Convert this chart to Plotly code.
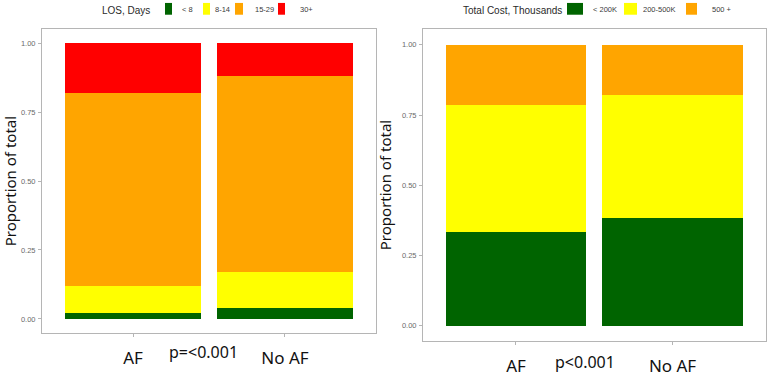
import plotly.graph_objects as go

# ---------------- data ----------------
groups = ["AF", "No AF"]

los_labels = ["< 8", "8-14", "15-29", "30+"]
los_lt8 = [0.021, 0.041]
los_8_14 = [0.100, 0.130]
los_15_29 = [0.697, 0.709]
los_30plus = [0.182, 0.120]

cost_labels = ["< 200K", "200-500K", "500 +"]
cost_lt200 = [0.333, 0.384]
cost_200_500 = [0.454, 0.438]
cost_500plus = [0.213, 0.178]

y_ticks = [0, 0.25, 0.5, 0.75, 1.0]
y_ticktext = ["0.00", "0.25", "0.50", "0.75", "1.00"]

los_title = "LOS, Days"
cost_title = "Total Cost, Thousands"
p_left = "p=<0.001"
p_right = "p<0.001"
y_title = "Proportion of total"

# ---------------- styles ----------------
los_colors = ["#006400", "#FFFF00", "#FFA500", "#FF0000"]
cost_colors = ["#006400", "#FFFF00", "#FFA500"]

W, H = 768, 377


def px_x(x):
    return x / W


def px_y(y):
    return 1 - y / H


fig = go.Figure()

los_series = [los_lt8, los_8_14, los_15_29, los_30plus]
for name, vals, col in zip(los_labels, los_series, los_colors):
    fig.add_trace(go.Bar(x=groups, y=vals, name=name, marker=dict(color=col, line=dict(width=0)),
                         width=0.9, xaxis="x", yaxis="y", showlegend=False))

cost_series = [cost_lt200, cost_200_500, cost_500plus]
for name, vals, col in zip(cost_labels, cost_series, cost_colors):
    fig.add_trace(go.Bar(x=groups, y=vals, name=name, marker=dict(color=col, line=dict(width=0)),
                         width=0.9, xaxis="x2", yaxis="y2", showlegend=False))

border = "#b5b5b5"
tickfont_y = dict(family="Liberation Sans", size=7.5, color="#6a6a6a")
tickfont_x = dict(family="Noto Sans", size=17, color="#111111")

xcommon = dict(type="category", showline=True, mirror=True, linecolor=border, linewidth=1,
               ticks="outside", ticklen=3, tickcolor=border, showgrid=False, zeroline=False,
               tickfont=tickfont_x, ticklabelstandoff=7, fixedrange=True)
ycommon = dict(showline=True, mirror=True, linecolor=border, linewidth=1,
               ticks="outside", ticklen=3, tickcolor=border, showgrid=False, zeroline=False,
               tickvals=y_ticks, ticktext=y_ticktext, tickfont=tickfont_y, ticklabelstandoff=1,
               title=dict(text=y_title, font=dict(family="Noto Sans", size=15, color="#111111"),
                          standoff=6))

fig.update_layout(
    width=W, height=H,
    margin=dict(l=0, r=0, t=0, b=0),
    paper_bgcolor="white", plot_bgcolor="white",
    barmode="stack",
    xaxis=dict(xcommon, domain=[px_x(42), px_x(376)], range=[-0.599, 1.599], anchor="y"),
    yaxis=dict(ycommon, domain=[px_y(339), px_y(30)], range=[-0.05, 1.05], anchor="x"),
    xaxis2=dict(xcommon, domain=[px_x(423), px_x(766)], range=[-0.594, 1.597], anchor="y2"),
    yaxis2=dict(ycommon, domain=[px_y(347), px_y(30)], range=[-0.0524, 1.0548], anchor="x2"),
)

# p-value annotations
fig.add_annotation(text=p_left, xref="paper", yref="paper", x=px_x(203), y=px_y(359),
                   showarrow=False, xanchor="center", yanchor="middle",
                   font=dict(family="Noto Sans", size=16, color="#111111"))
fig.add_annotation(text=p_right, xref="paper", yref="paper", x=px_x(585), y=px_y(369),
                   showarrow=False, xanchor="center", yanchor="middle",
                   font=dict(family="Noto Sans", size=16, color="#111111"))

# custom legends (layout positions in pixels)
legend_specs = [
    dict(title=los_title, title_right=152, labels=los_labels, colors=los_colors,
         keys=[(165, 172), (203, 210), (235, 243), (278, 285)], text_left=[180, 213, 253, 298]),
    dict(title=cost_title, title_right=564, labels=cost_labels, colors=cost_colors,
         keys=[(567, 583), (624, 637), (686, 697)], text_left=[591, 641, 710]),
]
for spec in legend_specs:
    fig.add_annotation(text=spec["title"], xref="paper", yref="paper", x=px_x(spec["title_right"]),
                       y=px_y(10.5), showarrow=False, xanchor="right", yanchor="middle",
                       font=dict(family="Liberation Sans", size=10, color="#2a2a2a"))
    for lab, col, (k0, k1), tl in zip(spec["labels"], spec["colors"], spec["keys"], spec["text_left"]):
        fig.add_shape(type="rect", xref="paper", yref="paper", x0=px_x(k0), x1=px_x(k1),
                      y0=px_y(15), y1=px_y(3), fillcolor=col, line=dict(width=0))
        fig.add_annotation(text=lab, xref="paper", yref="paper", x=px_x(tl), y=px_y(10),
                           showarrow=False, xanchor="left", yanchor="middle",
                           font=dict(family="Liberation Sans", size=7.5, color="#3a3a3a"))

fig.write_html("out.html")
